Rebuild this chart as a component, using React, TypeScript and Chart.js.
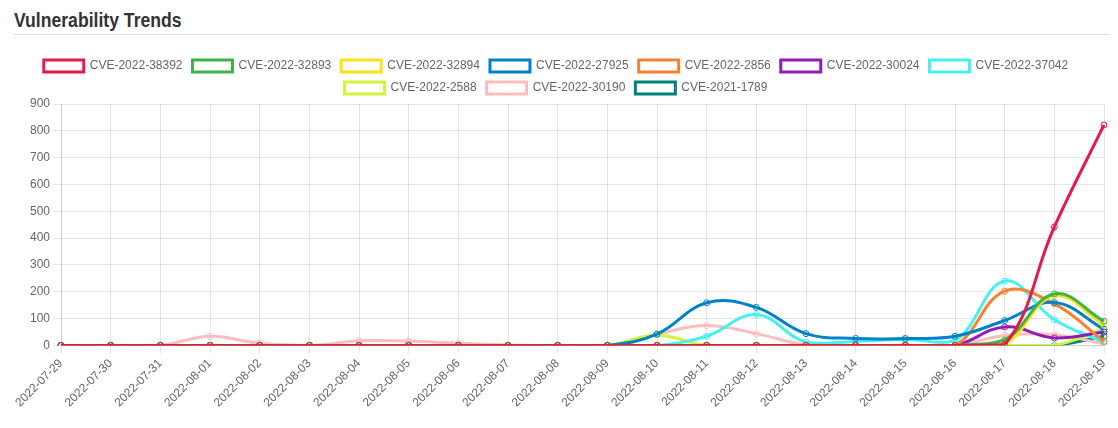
import React, { useEffect, useRef } from "react";
import { Chart, registerables } from "chart.js";

Chart.register(...registerables);

const dates = [
  "2022-07-29", "2022-07-30", "2022-07-31", "2022-08-01", "2022-08-02", "2022-08-03",
  "2022-08-04", "2022-08-05", "2022-08-06", "2022-08-07", "2022-08-08", "2022-08-09",
  "2022-08-10", "2022-08-11", "2022-08-12", "2022-08-13", "2022-08-14", "2022-08-15",
  "2022-08-16", "2022-08-17", "2022-08-18", "2022-08-19",
];

const cve202238392 = [0, 0, 0, 0, 0, 0, 0, 0, 0, 0, 0, 0, 0, 0, 0, 0, 0, 0, 0, 3, 442, 822];
const cve202232893 = [0, 0, 0, 0, 0, 0, 0, 0, 0, 0, 0, 0, 0, 0, 0, 0, 0, 0, 0, 20, 192, 90];
const cve202232894 = [0, 0, 0, 0, 0, 0, 0, 0, 0, 0, 0, 0, 0, 0, 0, 0, 0, 0, 0, 5, 185, 75];
const cve202227925 = [0, 0, 0, 0, 0, 0, 0, 0, 0, 0, 0, 0, 42, 159, 142, 44, 26, 26, 34, 93, 160, 60];
const cve20222856 = [0, 0, 0, 0, 0, 0, 0, 0, 0, 0, 0, 0, 0, 0, 0, 0, 0, 0, 0, 202, 155, 15];
const cve202230024 = [0, 0, 0, 0, 0, 0, 0, 0, 0, 0, 0, 0, 0, 0, 0, 0, 0, 0, 0, 69, 28, 50];
const cve202237042 = [0, 0, 0, 0, 0, 0, 0, 0, 0, 0, 0, 0, 0, 34, 115, 12, 15, 22, 18, 240, 96, 12];
const cve20222588 = [0, 0, 0, 0, 0, 0, 0, 0, 0, 0, 0, 0, 38, 0, 0, 0, 0, 0, 0, 0, 0, 62];
const cve202230190 = [0, 0, 0, 34, 8, 0, 17, 16, 8, 2, 0, 0, 42, 74, 44, 2, 0, 0, 0, 37, 40, 6];
const cve20211789 = [0, 0, 0, 0, 0, 0, 0, 0, 0, 0, 0, 0, 0, 0, 0, 0, 0, 0, 0, 0, 0, 34];

const seriesNames = [
  "CVE-2022-38392", "CVE-2022-32893", "CVE-2022-32894", "CVE-2022-27925", "CVE-2022-2856",
  "CVE-2022-30024", "CVE-2022-37042", "CVE-2022-2588", "CVE-2022-30190", "CVE-2021-1789",
];
const seriesValues = [
  cve202238392, cve202232893, cve202232894, cve202227925, cve20222856,
  cve202230024, cve202237042, cve20222588, cve202230190, cve20211789,
];
const seriesColors = [
  "#e6194b", "#3cb44b", "#ffe119", "#0082c8", "#f58231",
  "#911eb4", "#46f0f0", "#d2f53c", "#fabebe", "#008080",
];

const yTicks = [0, 100, 200, 300, 400, 500, 600, 700, 800, 900];

const legendShift = {
  id: "legendShift",
  afterLayout(chart: any) {
    if (chart.legend) {
      chart.legend.left -= 5;
      chart.legend.right -= 5;
    }
  },
};

export default function App() {
  const canvasRef = useRef<HTMLCanvasElement | null>(null);

  useEffect(() => {
    if (!canvasRef.current) return;
    Chart.defaults.font.family = "'Liberation Sans', Arial, sans-serif";
    Chart.defaults.font.size = 12;
    Chart.defaults.color = "#666";
    const chart = new Chart(canvasRef.current, {
      type: "line",
      data: {
        labels: dates,
        datasets: seriesNames.map((name, i) => ({
          label: name,
          data: seriesValues[i],
          borderColor: seriesColors[i],
          backgroundColor: "rgba(255,255,255,0)",
          pointBorderColor: seriesColors[i],
          pointBackgroundColor: "rgba(255,255,255,0)",
          borderWidth: 3,
          pointRadius: 3,
          pointBorderWidth: 1,
          tension: 0.4,
          fill: false,
        })),
      },
      plugins: [legendShift],
      options: {
        animation: false,
        responsive: false,
        maintainAspectRatio: false,
        plugins: {
          legend: {
            position: "top",
            labels: { boxWidth: 40, padding: 10, font: { size: 12 }, color: "#666" },
          },
          tooltip: { enabled: false },
        },
        scales: {
          x: {
            grid: { color: "rgba(0,0,0,0.1)" },
            ticks: { minRotation: 45, maxRotation: 45, autoSkip: false, color: "#666" },
            afterFit: (scale: any) => {
              scale.paddingLeft = 53;
              scale.paddingRight = 10;
            },
          },
          y: {
            min: yTicks[0],
            max: yTicks[yTicks.length - 1],
            grid: { color: "rgba(0,0,0,0.1)" },
            ticks: { stepSize: 100, color: "#666" },
            afterFit: (scale: any) => {
              scale.paddingTop = 54;
            },
          },
        },
      },
    });
    return () => chart.destroy();
  }, []);

  return (
    <div style={{ position: "relative", width: 1102, height: 412, fontFamily: "'Liberation Sans', Arial, sans-serif" }}>
      <div
        style={{
          position: "absolute",
          left: 6,
          top: 0,
          fontFamily: "'Liberation Sans', Arial, sans-serif",
          fontWeight: 700,
          fontSize: 20,
          lineHeight: "24px",
          color: "#333",
          whiteSpace: "nowrap",
          transform: "scaleX(0.88)",
          transformOrigin: "left top",
        }}
      >
        Vulnerability Trends
      </div>
      <div style={{ position: "absolute", left: 6, top: 26, width: 1096, height: 1, background: "#ddd" }} />
      <canvas
        ref={canvasRef}
        width={1106}
        height={363}
        style={{ position: "absolute", left: 0, top: 42, width: 1106, height: 363 }}
      />
    </div>
  );
}
